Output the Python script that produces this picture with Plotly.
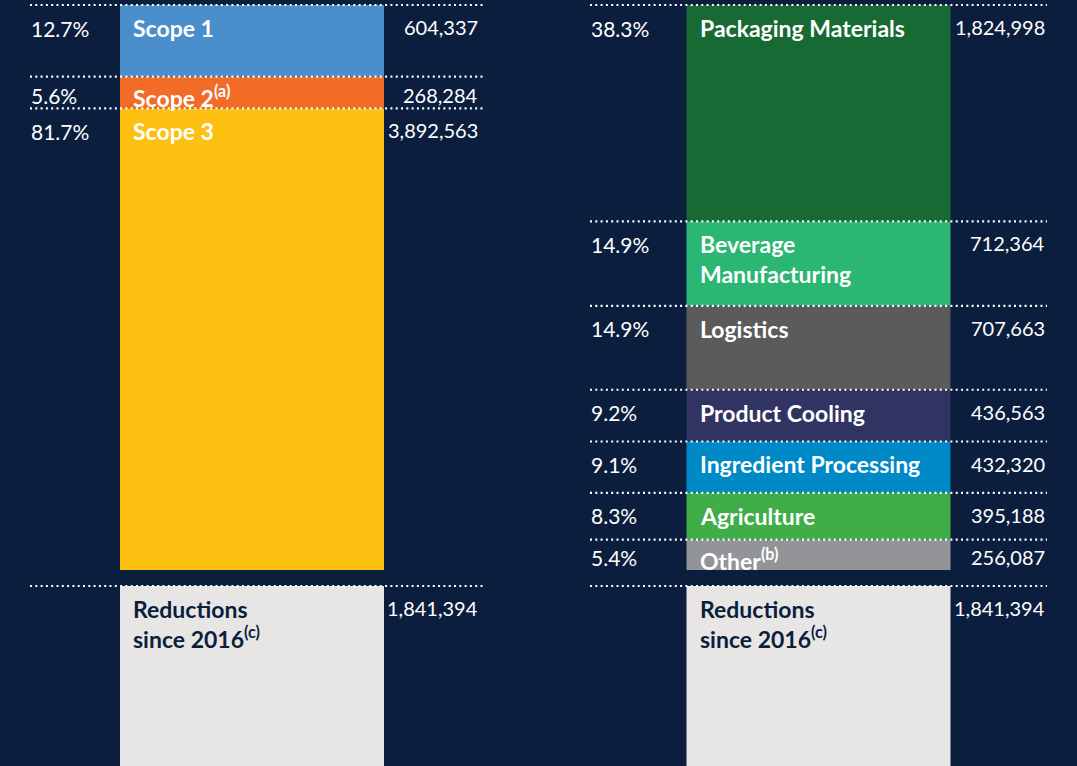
import plotly.graph_objects as go

# left column: emissions by scope
scope_labels = ["Scope 1", "Scope 2<sup>(a)</sup>", "Scope 3"]
scope_values = [604337, 268284, 3892563]
scope_shares = ["12.7%", "5.6%", "81.7%"]
scope_colors = ["#4a8ecb", "#f26b27", "#fdc010"]

# right column: emissions by category
category_labels = ["Packaging Materials", "Beverage<br>Manufacturing", "Logistics",
                   "Product Cooling", "Ingredient Processing", "Agriculture",
                   "Other<sup>(b)</sup>"]
category_values = [1824998, 712364, 707663, 436563, 432320, 395188, 256087]
category_shares = ["38.3%", "14.9%", "14.9%", "9.2%", "9.1%", "8.3%", "5.4%"]
category_colors = ["#186a35", "#2bb673", "#5b5b5b", "#313462", "#0089c7",
                   "#3fae49", "#929497"]

reduction_label = "Reductions<br>since 2016<sup>(c)</sup>"
reduction_value = 1841394

columns = ["scope", "category"]

BG = "#0b1e3e"
FONT = "Lato, 'Open Sans', sans-serif"
W, H = 1077, 766
BAR_W = 0.466
TEXT_DY = 22     # px from a block's top edge to the middle of its first text line

total = sum(scope_values)
px = total / 565            # data units per pixel
gap = 16 * px               # space above the reductions block

fig = go.Figure()


def add_column(col, labels, values, shares, colors, pct_x, val_x, line_x0, line_x1):
    start = 0
    for label, value, share, color in zip(labels, values, shares, colors):
        fig.add_trace(go.Bar(
            x=[col], y=[value], base=[start], width=BAR_W,
            marker={'color': color, 'line': {'width': 0}},
            hoverinfo='skip', showlegend=False
        ))
        # thin blocks get their text pulled up a little
        dy = min(TEXT_DY, value / px / 2 + 2)
        add_row_text(col, start, dy, label, share, f"{value:,}", "white", pct_x, val_x)
        add_dots(start, line_x0, line_x1)
        start += value

    # reductions block sits below a small gap
    start = total + gap
    fig.add_trace(go.Bar(
        x=[col], y=[reduction_value], base=[start], width=BAR_W,
        marker={'color': '#e7e6e4', 'line': {'width': 0}},
        hoverinfo='skip', showlegend=False
    ))
    add_row_text(col, start, TEXT_DY, reduction_label, "", f"{reduction_value:,}", BG, pct_x, val_x)
    add_dots(start, line_x0, line_x1)


def add_row_text(col, y, dy, label, share, value_text, label_color, pct_x, val_x):
    idx = columns.index(col)
    size = 23
    # label inside the bar, anchored by the top of its first line
    fig.add_annotation(
        x=idx - BAR_W / 2, y=y, xref='x', yref='y',
        xanchor='left', yanchor='top', xshift=12, yshift=-(dy - size * 0.62),
        text=f"<b>{label}</b>", showarrow=False, align='left', borderpad=0,
        font={'family': FONT, 'size': size, 'color': label_color}
    )
    if share:
        fig.add_annotation(
            x=pct_x, y=y, xref='paper', yref='y',
            xanchor='left', yanchor='middle', yshift=-(dy + 1),
            text=share, showarrow=False,
            font={'family': FONT, 'size': 21, 'color': 'white'}
        )
    fig.add_annotation(
        x=val_x, y=y, xref='paper', yref='y',
        xanchor='right', yanchor='middle', yshift=-dy,
        text=value_text, showarrow=False,
        font={'family': FONT, 'size': 20, 'color': 'white'}
    )


def add_dots(y, x0, x1):
    fig.add_shape(
        type='line', xref='paper', yref='y',
        x0=x0, x1=x1, y0=y, y1=y,
        line={'color': 'white', 'width': 2.2, 'dash': '2px,3.3px'},
        layer='above'
    )


add_column("scope", scope_labels, scope_values, scope_shares, scope_colors,
           29 / W, 480 / W, 30 / W, 483 / W)
add_column("category", category_labels, category_values, category_shares, category_colors,
           589 / W, 1047 / W, 590 / W, 1047 / W)

fig.update_layout(
    width=W, height=H,
    margin={'l': 0, 'r': 0, 't': 0, 'b': 0},
    paper_bgcolor=BG, plot_bgcolor=BG,
    barmode='overlay',
    hovermode=False,
    xaxis={
        'type': 'category', 'categoryorder': 'array', 'categoryarray': columns,
        'range': [-252 / 566.5, (W - 252) / 566.5],
        'showgrid': False, 'zeroline': False, 'showticklabels': False, 'fixedrange': True
    },
    yaxis={
        'range': [761 * px, -5 * px],
        'showgrid': False, 'zeroline': False, 'showticklabels': False, 'fixedrange': True
    },
)

fig.write_html(
    "out.html",
    config={'displayModeBar': False},
    post_script="document.body.style.margin='0';document.body.style.overflow='hidden';"
)
